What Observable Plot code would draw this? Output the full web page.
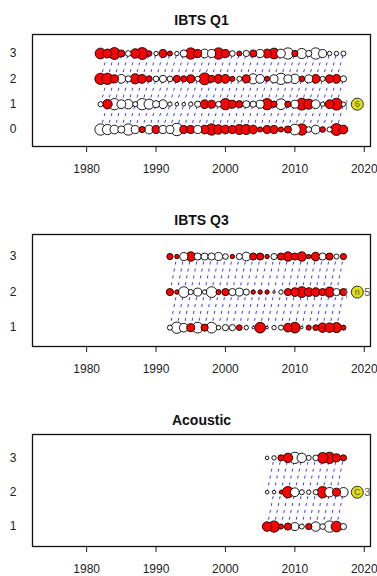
<!DOCTYPE html>
<html>
<head>
<meta charset="utf-8">
<script src="https://cdn.jsdelivr.net/npm/d3@7"></script>
<script src="https://cdn.jsdelivr.net/npm/@observablehq/plot@0.6"></script>
<style>
  html, body { margin: 0; padding: 0; background: white; }
  #chart svg { display: block; }
</style>
</head>
<body>
<div id="chart"></div>
<script>
// ---------- DATA ----------
const titles = ["IBTS Q1", "IBTS Q3", "Acoustic"];
const xTicks = [1980, 1990, 2000, 2010, 2020];

// IBTS Q1, years 1982-2017
const q1Start = 1982;
const q1Ages = [0, 1, 2, 3];
const q1Age0 = [-2.0,-1.6,-1.2,-0.8,-2.0,-1.0,0.6,-1.2,1.0,-1.0,-1.0,-2.4,1.0,1.0,-1.0,1.2,2.0,1.4,1.2,1.0,1.6,1.6,1.2,0.4,1.0,1.0,0.4,0.8,-1.8,2.0,-0.5,-1.2,0.5,-0.4,2.2,1.2];
const q1Age1 = [-0.4,1.4,-2.0,-1.2,-1.4,-0.4,-2.0,-1.6,-0.8,-1.2,-0.3,-0.2,-0.2,-0.3,-0.6,1.2,1.0,-0.5,2.0,1.0,0.8,-0.8,-0.6,-1.0,2.0,0.6,-1.8,0.6,-1.0,2.2,1.6,-1.2,-0.3,1.2,2.2,-0.3];
const q1Age2 = [2.0,2.0,1.0,-1.2,-0.6,1.6,1.2,0.6,-0.5,-0.8,-0.5,0.8,0.6,1.0,-0.4,2.2,0.8,1.2,1.2,0.4,-0.4,1.0,-1.6,-1.2,0.4,-1.0,-2.0,-1.0,-1.4,0.5,-1.0,1.2,-0.4,1.0,1.2,-0.6];
const q1Age3 = [1.8,1.2,2.2,0.8,-0.5,1.4,2.2,0.5,-0.3,1.0,0.4,-0.3,-0.8,2.0,1.0,-1.2,-1.0,2.0,1.0,-0.5,0.4,-0.6,0.8,-1.0,1.2,1.8,-1.2,-2.0,0.6,-1.6,-0.6,-2.0,-1.0,-0.3,-0.3,-0.4];

// IBTS Q3, years 1992-2017
const q3Start = 1992;
const q3Ages = [1, 2, 3];
const q3Age1 = [-0.4,-2.0,-1.2,1.0,-1.8,0.8,-1.8,-0.3,-0.6,-0.6,0.5,-0.3,-0.1,1.8,-0.1,-0.3,-0.4,1.2,1.8,-0.1,0.4,0.5,1.4,1.4,1.6,0.4];
const q3Age2 = [0.8,0.3,-1.8,-0.4,-1.0,-0.3,-1.8,0.4,0.8,-0.8,-1.0,-0.6,0.3,0.3,0.3,-0.1,-0.3,0.8,1.2,1.8,1.2,1.2,0.8,1.6,-0.8,0.8];
const q3Age3 = [0.6,0.3,-1.0,1.4,-0.8,-0.8,-0.8,-1.0,-0.5,0.3,-0.6,-1.2,0.8,0.8,0.3,-0.6,0.8,1.4,0.8,1.4,0.3,1.2,-0.8,0.8,-0.4,0.6];

// Acoustic, years 2006-2017
const acStart = 2006;
const acAges = [1, 2, 3];
const acAge1 = [1.4,2.0,0.4,0.8,-1.0,-0.4,0.6,-1.4,-0.5,-2.0,1.8,-0.6];
const acAge2 = [-0.2,-0.2,0.2,2.0,-1.2,-0.4,-0.3,-0.4,2.0,-1.4,1.0,-1.4];
const acAge3 = [-0.2,-0.3,0.6,1.4,-2.0,-1.4,-0.4,-0.5,1.8,2.0,1.0,0.6];

// highlighted point (yellow) per panel: year, age, inner label, side labels
const markYear = [2019, 2019, 2019];
const markAge = [1, 2, 2];
const markInner = ["6", "n", "C"];
const markBefore = ["|", "|", ""];
const markAfter = ["", "5", "3"];

// ---------- BUILD ----------
function buildPanel(idx, title, start, ages, rows, yDomain) {
  const pts = [];
  rows.forEach((vals, i) => vals.forEach((v, j) => pts.push({year: start + j, age: ages[i], v})));
  const nYears = rows[0].length;
  const segs = [];
  for (let i = 0; i < ages.length - 1; i++) {
    for (let j = 0; j < nYears - 1; j++) {
      segs.push({x1: start + j, y1: ages[i], x2: start + j + 1, y2: ages[i] + 1});
    }
  }
  const mark = [{year: markYear[idx], age: markAge[idx], inner: markInner[idx], before: markBefore[idx], after: markAfter[idx]}];
  return Plot.plot({
    width: 377,
    height: 200,
    marginTop: 34,
    marginBottom: 54,
    marginLeft: 32,
    marginRight: 7,
    style: {fontFamily: "'Liberation Sans', Arial, sans-serif", fontSize: "12px", color: "#222", background: "white", overflow: "visible"},
    x: {domain: [1972.2, 2020.9], ticks: xTicks, tickFormat: d => String(d), tickSize: 6, tickPadding: 12, label: null},
    y: {domain: yDomain, ticks: ages, tickFormat: d => String(d), tickSize: 0, tickPadding: 16, label: null},
    r: {type: "sqrt", domain: [0, 2.4], range: [0, 6.2]},
    color: {type: "identity"},
    marks: [
      Plot.link(segs, {x1: "x1", y1: "y1", x2: "x2", y2: "y2", stroke: "#3c3cff", strokeWidth: 1, strokeDasharray: "3,4"}),
      Plot.dot(pts, {x: "year", y: "age", r: d => Math.abs(d.v), fill: d => d.v > 0 ? "#ff0000" : "#ffffff", stroke: "#000", strokeWidth: 0.9}),
      Plot.dot(mark, {x: "year", y: "age", r: 6, fill: "#dede10", stroke: "#333", strokeWidth: 1}),
      Plot.text(mark, {x: "year", y: "age", text: "inner", fontSize: 9, fill: "#555"}),
      Plot.text(mark, {x: "year", y: "age", text: "before", dx: -11, fontSize: 11, fill: "#777"}),
      Plot.text(mark, {x: "year", y: "age", text: "after", dx: 10, fontSize: 11, fill: "#555"}),
      Plot.frame({stroke: "#111", strokeWidth: 1.3}),
      Plot.text([title], {frameAnchor: "top", dy: -19, text: d => d, fontWeight: "bold", fontSize: 14, fill: "#111"})
    ]
  });
}

const root = document.getElementById("chart");
root.appendChild(buildPanel(0, titles[0], q1Start, q1Ages, [q1Age0, q1Age1, q1Age2, q1Age3], [-0.67, 3.75]));
root.appendChild(buildPanel(1, titles[1], q3Start, q3Ages, [q3Age1, q3Age2, q3Age3], [0.47, 3.62]));
root.appendChild(buildPanel(2, titles[2], acStart, acAges, [acAge1, acAge2, acAge3], [0.42, 3.68]));
</script>
</body>
</html>
